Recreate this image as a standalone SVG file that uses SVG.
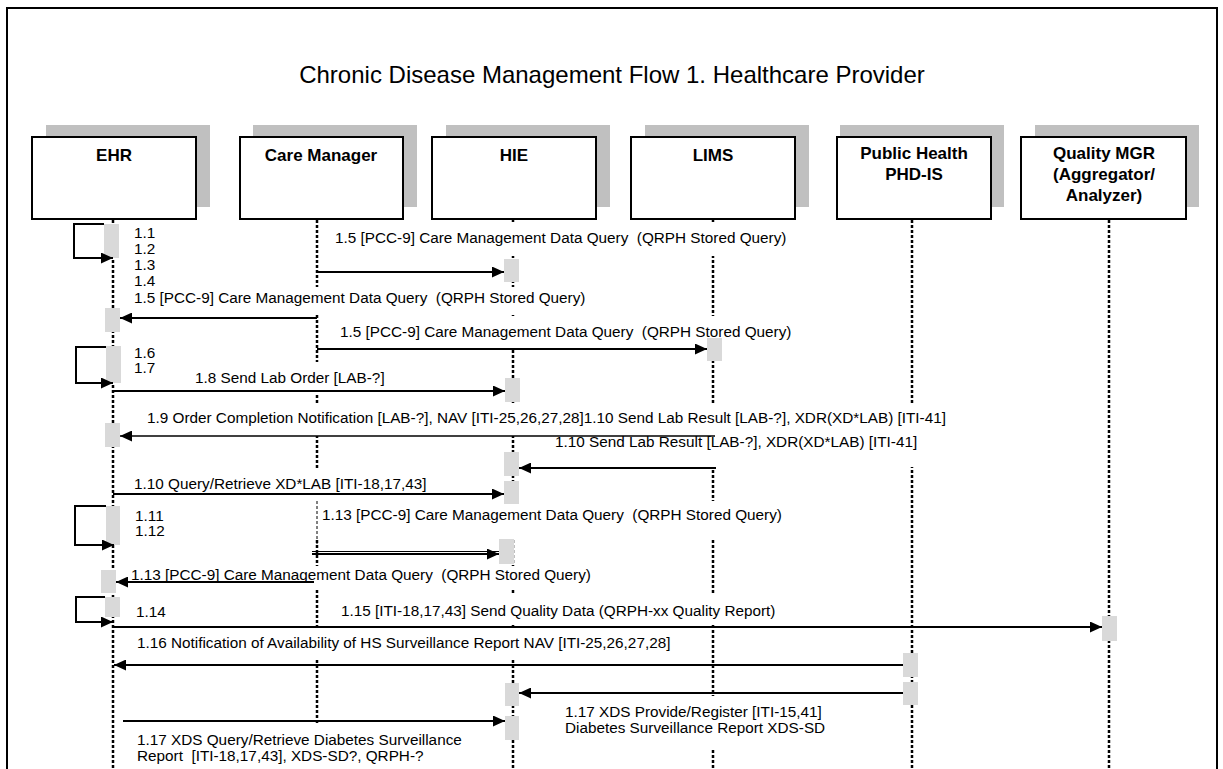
<svg xmlns="http://www.w3.org/2000/svg" width="1223" height="769" viewBox="0 0 1223 769">
  <defs>
    <style>
      .title { font-family: "Liberation Sans", Arial, sans-serif; font-size: 24px; fill: #000; text-anchor: middle; }
      .hdr { font-family: "Liberation Sans", Arial, sans-serif; font-size: 17px; font-weight: bold; fill: #000; text-anchor: middle; }
      .lbl { font-family: "Liberation Sans", Arial, sans-serif; font-size: 15.3px; fill: #000; white-space: pre; }
      .shadow { fill: #c0c0c0; }
      .box { fill: #fff; stroke: #000; stroke-width: 2; }
      .life { stroke: #000; stroke-width: 2.5; stroke-dasharray: 3 2; fill: none; }
      .thin { stroke: #000; stroke-width: 1; stroke-dasharray: 3 2; fill: none; }
      .bg { fill: #fff; }
      .act { fill: #d9d9d9; }
      .msg { stroke: #000; stroke-width: 2; fill: none; marker-end: url(#ah); }
      .msg1 { stroke: #000; stroke-width: 1.5; fill: none; marker-end: url(#ah); }
      .plain { stroke: #000; stroke-width: 1; fill: none; }
    </style>
    <marker id="ah" markerWidth="12" markerHeight="11" refX="12" refY="5.5" orient="auto" markerUnits="userSpaceOnUse">
      <path d="M0,0 L12,5.5 L0,11 z" fill="#000"/>
    </marker>
  </defs>

  <rect width="1223" height="769" fill="#fff"/>
  <!-- outer frame -->
  <rect x="7" y="8" width="1210" height="800" fill="none" stroke="#000" stroke-width="2"/>

  <text class="title" x="612" y="83">Chronic Disease Management Flow 1. Healthcare Provider</text>

  <!-- participants: shadowed header box with its lifeline -->
  <g id="ehr">
    <rect class="shadow" x="46" y="125" width="164" height="82"/>
    <rect class="box" x="32" y="137" width="164" height="82"/>
    <text class="hdr" x="114" y="161">EHR</text>
    <line class="life" x1="113" y1="220" x2="113" y2="769"/>
  </g>
  <g id="care-manager">
    <rect class="shadow" x="253" y="125" width="164" height="82"/>
    <rect class="box" x="240" y="137" width="163" height="82"/>
    <text class="hdr" x="321" y="161">Care Manager</text>
    <line class="life" x1="317" y1="220" x2="317" y2="769"/>
  </g>
  <g id="hie">
    <rect class="shadow" x="446" y="125" width="164" height="82"/>
    <rect class="box" x="432" y="137" width="164" height="82"/>
    <text class="hdr" x="514" y="161">HIE</text>
    <line class="life" x1="513" y1="220" x2="513" y2="769"/>
  </g>
  <g id="lims">
    <rect class="shadow" x="645" y="125" width="164" height="82"/>
    <rect class="box" x="631" y="137" width="164" height="82"/>
    <text class="hdr" x="713" y="161">LIMS</text>
    <line class="life" x1="713" y1="220" x2="713" y2="769"/>
  </g>
  <g id="public-health">
    <rect class="shadow" x="840" y="125" width="164" height="82"/>
    <rect class="box" x="837" y="137" width="154" height="82"/>
    <text class="hdr" x="914" y="159">Public Health</text>
    <text class="hdr" x="914" y="180">PHD-IS</text>
    <line class="life" x1="912" y1="220" x2="912" y2="769"/>
  </g>
  <g id="quality-mgr">
    <rect class="shadow" x="1035" y="125" width="164" height="82"/>
    <rect class="box" x="1021" y="137" width="165" height="82"/>
    <text class="hdr" x="1104" y="159">Quality MGR</text>
    <text class="hdr" x="1104" y="180">(Aggregator/</text>
    <text class="hdr" x="1104" y="201">Analyzer)</text>
    <line class="life" x1="1109" y1="220" x2="1109" y2="769"/>
  </g>

  <!-- message labels on white text boxes -->
  <g id="labels">
    <text class="lbl" x="134" y="238">1.1</text>
    <text class="lbl" x="134" y="254">1.2</text>
    <text class="lbl" x="134" y="270">1.3</text>
    <text class="lbl" x="134" y="286">1.4</text>

    <rect class="bg" x="330" y="222" width="470" height="34"/>
    <text class="lbl" x="335" y="243">1.5 [PCC-9] Care Management Data Query  (QRPH Stored Query)</text>

    <rect class="bg" x="128" y="287" width="397" height="28"/>
    <text class="lbl" x="134" y="303">1.5 [PCC-9] Care Management Data Query  (QRPH Stored Query)</text>

    <rect class="bg" x="335" y="316" width="465" height="34"/>
    <text class="lbl" x="340" y="337">1.5 [PCC-9] Care Management Data Query  (QRPH Stored Query)</text>

    <text class="lbl" x="134" y="358">1.6</text>
    <text class="lbl" x="134" y="373">1.7</text>

    <rect class="bg" x="185" y="362" width="210" height="31"/>
    <text class="lbl" x="195" y="383">1.8 Send Lab Order [LAB-?]</text>

    <rect class="bg" x="140" y="403" width="815" height="33"/>
    <text class="lbl" x="147" y="423">1.9 Order Completion Notification [LAB-?], NAV [ITI-25,26,27,28]1.10 Send Lab Result [LAB-?], XDR(XD*LAB) [ITI-41]</text>

    <rect class="bg" x="550" y="436" width="375" height="31"/>
    <text class="lbl" x="555" y="447">1.10 Send Lab Result [LAB-?], XDR(XD*LAB) [ITI-41]</text>

    <rect class="bg" x="125" y="468" width="315" height="33"/>
    <text class="lbl" x="134" y="489">1.10 Query/Retrieve XD*LAB [ITI-18,17,43]</text>

    <text class="lbl" x="135" y="521">1.11</text>
    <text class="lbl" x="135" y="536">1.12</text>

    <rect class="bg" x="314" y="501" width="486" height="37"/>
    <line class="thin" x1="317" y1="501" x2="317" y2="545"/>
    <text class="lbl" x="322" y="520">1.13 [PCC-9] Care Management Data Query  (QRPH Stored Query)</text>

    <rect class="bg" x="125" y="566" width="395" height="23"/>
    <text class="lbl" x="131" y="580">1.13 [PCC-9] Care Management Data Query  (QRPH Stored Query)</text>

    <text class="lbl" x="136" y="617">1.14</text>

    <rect class="bg" x="330" y="595" width="460" height="30"/>
    <text class="lbl" x="341" y="616">1.15 [ITI-18,17,43] Send Quality Data (QRPH-xx Quality Report)</text>

    <rect class="bg" x="130" y="629" width="560" height="29"/>
    <text class="lbl" x="137" y="648">1.16 Notification of Availability of HS Surveillance Report NAV [ITI-25,26,27,28]</text>

    <rect class="bg" x="560" y="696" width="280" height="54"/>
    <text class="lbl" x="565" y="717">1.17 XDS Provide/Register [ITI-15,41]</text>
    <text class="lbl" x="565" y="733">Diabetes Surveillance Report XDS-SD</text>

    <rect class="bg" x="130" y="723" width="365" height="46"/>
    <text class="lbl" x="137" y="745">1.17 XDS Query/Retrieve Diabetes Surveillance</text>
    <text class="lbl" x="137" y="761">Report  [ITI-18,17,43], XDS-SD?, QRPH-?</text>
  </g>

  <!-- activation bars -->
  <g id="activations">
    <rect class="act" x="104" y="224" width="15" height="34"/>
    <rect class="act" x="504" y="259" width="15" height="23"/>
    <rect class="act" x="105" y="308" width="15" height="24"/>
    <rect class="act" x="707" y="338" width="15" height="23"/>
    <rect class="act" x="106" y="346" width="15" height="37"/>
    <rect class="act" x="505" y="378" width="15" height="24"/>
    <rect class="act" x="105" y="423" width="15" height="24"/>
    <rect class="act" x="504" y="452" width="15" height="24"/>
    <rect class="act" x="504" y="481" width="15" height="23"/>
    <rect class="act" x="106" y="506" width="14" height="39"/>
    <rect class="act" x="499" y="539" width="15" height="25"/>
    <rect class="act" x="101" y="570" width="15" height="23"/>
    <rect class="act" x="105" y="597" width="15" height="20"/>
    <rect class="act" x="1102" y="616" width="15" height="25"/>
    <rect class="act" x="903" y="653" width="15" height="24"/>
    <rect class="act" x="903" y="682" width="15" height="23"/>
    <rect class="act" x="505" y="683" width="14" height="23"/>
    <rect class="act" x="505" y="716" width="14" height="24"/>
  </g>

  <!-- connectors -->
  <g id="connectors">
    <path class="msg" d="M104,224 H74 V258 H113"/>
    <line class="msg" x1="317" y1="272" x2="504" y2="272"/>
    <line class="msg" x1="317" y1="318" x2="120" y2="318"/>
    <line class="msg" x1="317" y1="349" x2="707" y2="349"/>
    <path class="msg" d="M106,347 H76 V383 H113"/>
    <line class="msg" x1="113" y1="391" x2="505" y2="391"/>
    <line class="msg1" x1="715" y1="436" x2="120" y2="436"/>
    <line class="msg" x1="716" y1="468" x2="519" y2="468"/>
    <line class="msg" x1="113" y1="494" x2="504" y2="494"/>
    <path class="msg" d="M106,506 H75 V545 H114"/>
    <line class="plain" x1="312" y1="551.5" x2="499" y2="551.5"/>
    <line class="msg" x1="312" y1="554" x2="499" y2="554"/>
    <line class="msg" x1="314" y1="582" x2="116" y2="582"/>
    <path class="msg" d="M105,597 H76 V622 H113"/>
    <line class="msg" x1="113" y1="627" x2="1102" y2="627"/>
    <line class="msg" x1="903" y1="665" x2="114" y2="665"/>
    <line class="msg" x1="903" y1="693" x2="519" y2="693"/>
    <line class="msg" x1="123" y1="721" x2="505" y2="721"/>
  </g>
</svg>
